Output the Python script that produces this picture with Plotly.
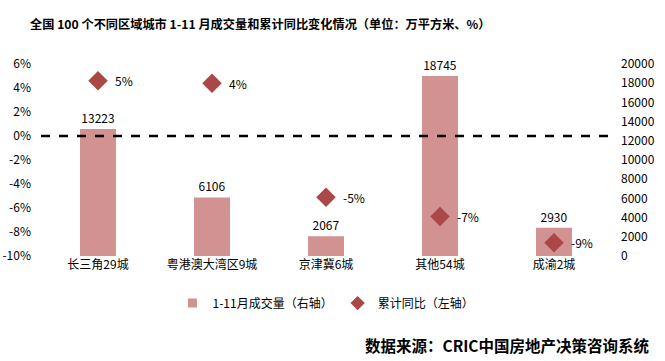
import plotly.graph_objects as go

categories = ["长三角29城", "粤港澳大湾区9城", "京津冀6城", "其他54城", "成渝2城"]
volume = [13223, 6106, 2067, 18745, 2930]
yoy = [4.6, 4.4, -5.1, -6.7, -8.9]
yoy_labels = [f"{round(v)}%" for v in yoy]
left_ticks = [6, 4, 2, 0, -2, -4, -6, -8, -10]
right_ticks = list(range(0, 20001, 2000))

FONT = "Noto Sans CJK SC"
BAR_C = "#D29292"
MK_C = "#A94846"
BAR_NAME = "1-11月成交量（右轴）"
MK_NAME = "累计同比（左轴）"

fig = go.Figure()
fig.add_trace(go.Bar(
    x=categories, y=volume, name=BAR_NAME, showlegend=False,
    marker=dict(color=BAR_C, line=dict(width=0)),
    width=0.316,
    text=[str(v) for v in volume], textposition="outside",
    textfont=dict(size=12, color="#000000", family=FONT),
    cliponaxis=False, yaxis="y",
))
fig.add_trace(go.Scatter(
    x=categories, y=yoy, name=MK_NAME, mode="markers", showlegend=False,
    marker=dict(symbol="diamond", size=15, color=MK_C),
    yaxis="y2", cliponaxis=False,
))
# legend entries with small symbols
fig.add_trace(go.Scatter(x=[None], y=[None], name=BAR_NAME, mode="markers",
                         marker=dict(symbol="square", size=9, color=BAR_C), yaxis="y"))
fig.add_trace(go.Scatter(x=[None], y=[None], name=MK_NAME, mode="markers",
                         marker=dict(symbol="diamond", size=11, color=MK_C), yaxis="y2"))

for c, v, t in zip(categories, yoy, yoy_labels):
    fig.add_annotation(x=c, y=v, xref="x", yref="y2", text=t, showarrow=False,
                       xanchor="left", xshift=15,
                       font=dict(size=12, color="#000000", family=FONT))

fig.add_shape(type="line", xref="paper", yref="y2", x0=0, x1=0.995, y0=0, y1=0,
              line=dict(color="#000000", width=2.5, dash="dash"), layer="above")

fig.update_layout(
    width=665, height=361,
    margin=dict(l=41, r=54, t=64, b=105, autoexpand=False),
    paper_bgcolor="white", plot_bgcolor="white",
    font=dict(family=FONT, size=12, color="#000000"),
    bargap=0.6,
    title=dict(text="<b>全国 100 个不同区域城市 1-11 月成交量和累计同比变化情况（单位：万平方米、%）</b>",
               x=30 / 665, xanchor="left", y=1 - 25 / 361, yanchor="middle",
               font=dict(size=12.2, family=FONT, color="#000000")),
    xaxis=dict(showgrid=False, showline=False, zeroline=False, ticks="",
               tickfont=dict(size=12, family=FONT)),
    yaxis=dict(side="right", range=[0, 20000], tickvals=right_ticks,
               tickformat="d",
               showgrid=False, zeroline=False, showline=False, ticks="",
               ticklabelstandoff=9, tickfont=dict(size=12, family=FONT)),
    yaxis2=dict(side="left", overlaying="y", range=[-10, 6], tickvals=left_ticks,
                ticktext=[f"{v}%" for v in left_ticks],
                showgrid=False, zeroline=False, showline=False, ticks="",
                ticklabelstandoff=9, tickfont=dict(size=12, family=FONT)),
    legend=dict(orientation="h", x=0.5, xanchor="center", y=-0.245, yanchor="middle",
                font=dict(size=12, family=FONT), traceorder="normal",
                itemwidth=30, bgcolor="rgba(0,0,0,0)", tracegroupgap=0),
    showlegend=True,
)
fig.add_annotation(text="<b>数据来源：CRIC中国房地产决策咨询系统</b>", xref="paper", yref="paper",
                   x=(652 - 41) / 570, xanchor="right", y=(256 - 345) / 192, yanchor="middle",
                   showarrow=False, font=dict(size=15.5, family=FONT, color="#000000"))

fig.write_html("out.html", post_script="document.body.style.margin='0';",
               config={"displayModeBar": False})
